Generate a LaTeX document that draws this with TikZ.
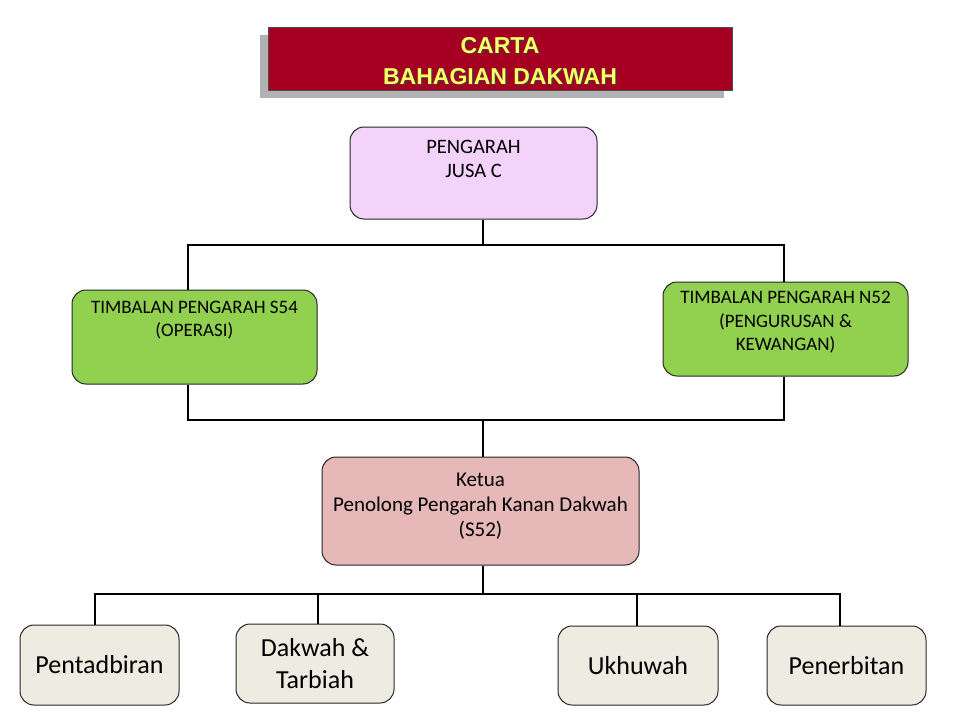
\documentclass[tikz,border=0pt]{standalone}
\usepackage{fontspec}
\setmainfont{Carlito}
\newfontfamily\titlefont{Liberation Sans}
\usetikzlibrary{shadows}

\definecolor{titlered}{HTML}{A50021}
\definecolor{titleyellow}{HTML}{FFFF66}
\definecolor{headpink}{HTML}{F3D3F9}
\definecolor{deputygreen}{HTML}{92D050}
\definecolor{chiefrose}{HTML}{E6B8B7}
\definecolor{unitbeige}{HTML}{EEECE1}

% yellow title text with a dark offset copy behind it
\newcommand{\shtext}[1]{{\color{black!75}\rlap{\kern1.2pt\raisebox{-1.2pt}{#1}}}#1}

\begin{document}
\begin{tikzpicture}[
    x=1pt, y=-1pt,
    box/.style={rectangle, rounded corners=14pt, draw=black!85, line width=1pt, align=center},
    headbox/.style={box, fill=headpink, font=\fontsize{20.5}{24}\selectfont},
    deputybox/.style={box, fill=deputygreen, font=\fontsize{19}{23.5}\selectfont, minimum width=245pt, minimum height=94pt},
    chiefbox/.style={box, fill=chiefrose, font=\fontsize{21}{25}\selectfont},
    unitbox/.style={box, fill=unitbeige, font=\fontsize{26}{32}\selectfont, minimum width=159pt, minimum height=79pt},
    link/.style={draw=black, line width=1.1pt}
]
    \useasboundingbox (0,0) rectangle (960,720);

    % --- Title ---
    \node[rectangle, draw=black!70, fill=titlered, minimum width=464pt, minimum height=63pt,
          drop shadow={shadow xshift=-8pt, shadow yshift=-7pt, fill=black!30, opacity=1},
          text=titleyellow, align=center, font=\titlefont\bfseries\fontsize{23}{31}\selectfont,
          text height=50pt, text depth=0pt]
          (title) at (500,59) {\shtext{CARTA}\\\shtext{BAHAGIAN DAKWAH}};

    % --- Director ---
    \node[headbox, minimum width=247pt, minimum height=92pt, text depth=28pt]
          (pengarah) at (473.5,173) {PENGARAH\\JUSA C};

    % --- Deputies ---
    \node[deputybox, text depth=36pt] (tpS) at (194.5,337) {TIMBALAN PENGARAH S54\\(OPERASI)};
    \node[deputybox, text depth=16pt] (tpN) at (785.5,329) {TIMBALAN PENGARAH N52\\(PENGURUSAN \&\\KEWANGAN)};

    % --- Head of section ---
    \node[chiefbox, minimum width=317pt, minimum height=108pt, text depth=12pt]
          (ketua) at (480.5,511) {Ketua\\Penolong Pengarah Kanan Dakwah\\(S52)};

    % --- Units ---
    \node[unitbox, minimum height=80pt] (pentadbiran) at (99.5,665) {Pentadbiran};
    \node[unitbox, minimum width=158pt] (dakwah) at (315,663.5) {Dakwah \&\\Tarbiah};
    \node[unitbox, minimum width=160pt] (ukhuwah) at (638,665.5) {Ukhuwah};
    \node[unitbox] (penerbitan) at (846.5,665.5) {Penerbitan};

    % --- Connectors ---
    \coordinate (topBus) at (483,245);
    \coordinate (midBus) at (483,420);
    \coordinate (lowBus) at (483,594);

    \draw[link] (topBus |- pengarah.south) -- (topBus);
    \draw[link] ([xshift=-6.5pt]tpS.north) |- (topBus) -| ([xshift=-1.5pt]tpN.north);
    \draw[link] ([xshift=-6.5pt]tpS.south) |- (midBus) -| ([xshift=-1.5pt]tpN.south);
    \draw[link] (midBus) -- (midBus |- ketua.north);

    \draw[link] (lowBus |- ketua.south) -- (lowBus);
    \draw[link] ([xshift=-4.5pt]pentadbiran.north) |- (lowBus) -| ([xshift=-6.5pt]penerbitan.north);
    \draw[link] ([xshift=3pt]dakwah.north) -- ([xshift=3pt]dakwah.north |- lowBus);
    \draw[link] ([xshift=-1pt]ukhuwah.north) -- ([xshift=-1pt]ukhuwah.north |- lowBus);

\end{tikzpicture}
\end{document}
